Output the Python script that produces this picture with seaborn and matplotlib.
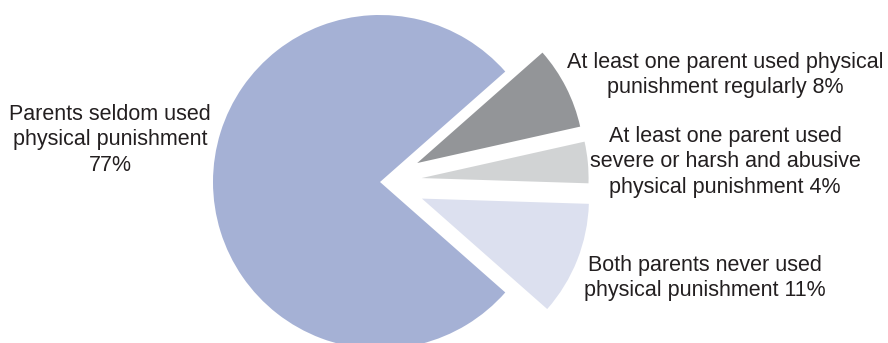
import matplotlib
matplotlib.use("Agg")
import matplotlib.pyplot as plt
import seaborn as sns

categories = [
    "At least one parent used physical\npunishment regularly 8%",
    "At least one parent used\nsevere or harsh and abusive\nphysical punishment 4%",
    "Both parents never used\nphysical punishment 11%",
    "Parents seldom used\nphysical punishment\n77%",
]
values = [8, 4, 11, 77]
colors = ["#939598", "#D1D3D4", "#DCE0EF", "#A5B1D5"]
explode = [0.25, 0.25, 0.27, 0.0]

sns.set_theme(style="white")
plt.rcParams['font.family'] = ['Liberation Sans', 'DejaVu Sans']

W, H = 888, 343
fig = plt.figure(figsize=(W / 100, H / 100), dpi=100)
ax = fig.add_axes([0, 0, 1, 1])

R = 167.0
cx, cy = 380.0, 182.0  # pixel centre (from top)

big_share = values[-1] / sum(values) * 360
startangle = (360 - big_share) / 2

ax.pie(values, colors=colors, explode=explode, startangle=startangle,
       counterclock=False, radius=1.0, center=(0, 0),
       wedgeprops=dict(linewidth=0))

ax.set_xlim(-cx / R, (W - cx) / R)
ax.set_ylim(-(H - cy) / R, cy / R)
ax.set_aspect('auto')
ax.axis('off')

def px(x, y):
    return ((x - cx) / R, (cy - y) / R)

label_pos = [(725, 75), (725, 162), (705, 278), (110, 140)]
for lab, (x, y) in zip(categories, label_pos):
    tx, ty = px(x, y)
    ax.text(tx, ty, lab, ha='center', va='center', fontsize=15.5,
            color='#231F20', linespacing=1.3)

fig.savefig("out.png", dpi=100)
